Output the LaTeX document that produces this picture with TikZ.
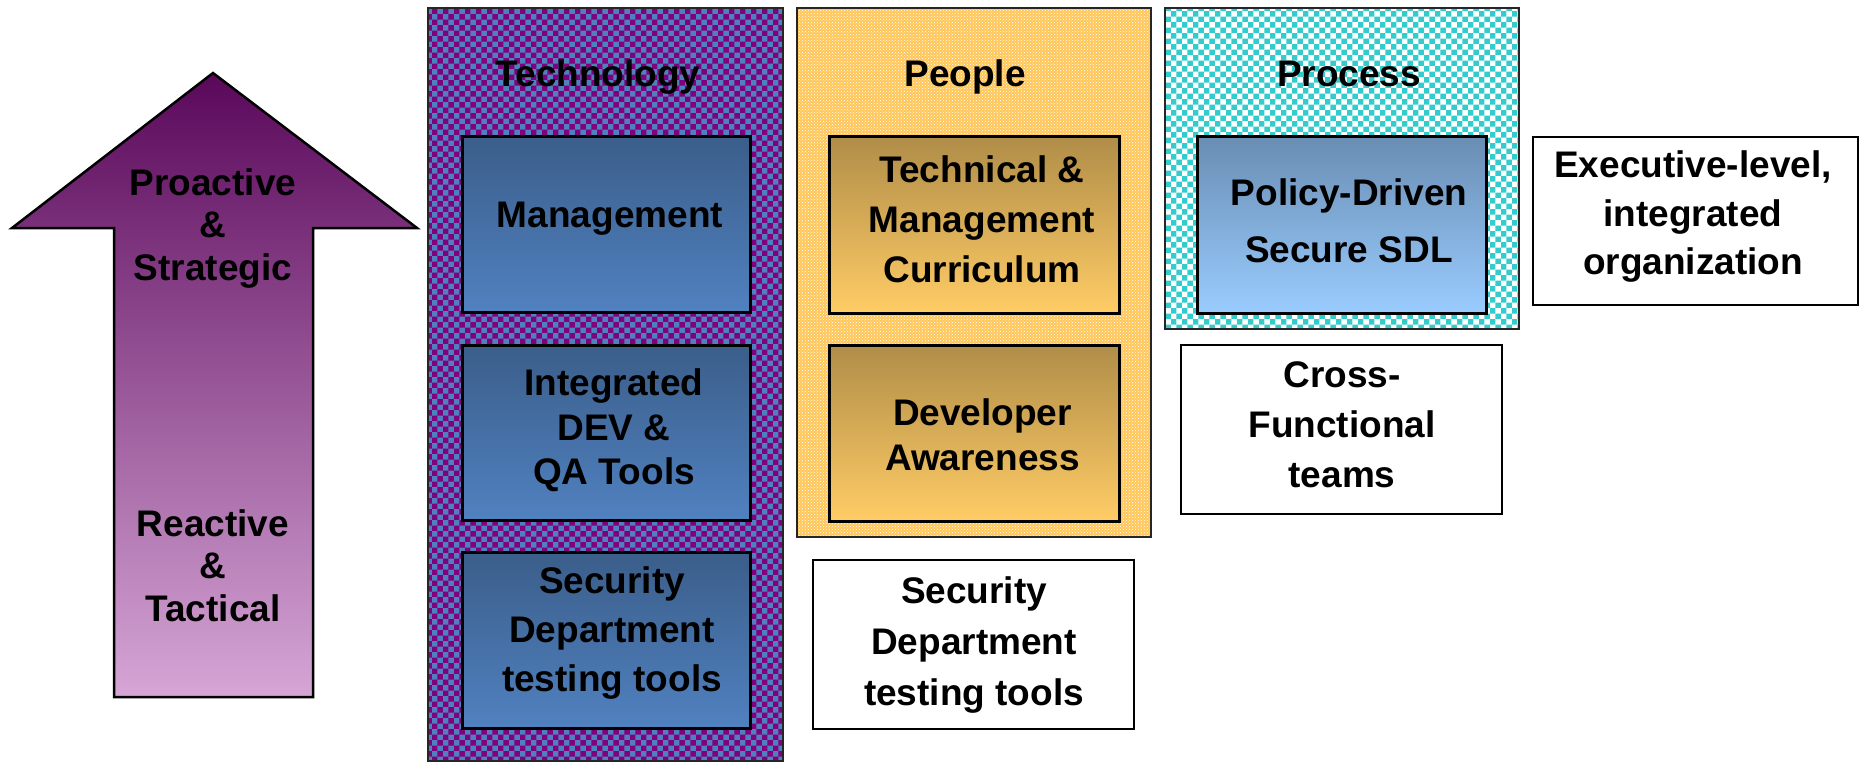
\documentclass[tikz,border=0pt]{standalone}
\usepackage{fontspec}
\setmainfont{Liberation Sans}
\usetikzlibrary{patterns}
\definecolor{techpurple}{HTML}{800080}
\definecolor{techblue}{HTML}{4F81BD}
\definecolor{peopleorange}{HTML}{FFC658}
\definecolor{procteal}{HTML}{33CCCC}
\definecolor{techtop}{HTML}{3B5E8A}
\definecolor{techbot}{HTML}{5081C0}
\definecolor{peoptop}{HTML}{B08D48}
\definecolor{peopbot}{HTML}{FFCC66}
\definecolor{proctop}{HTML}{6A8DB3}
\definecolor{procbot}{HTML}{99CCFF}
\definecolor{arrtop}{HTML}{5A085A}
\definecolor{arrbot}{HTML}{D6A6D6}
\begin{document}
\begin{tikzpicture}[x=1pt,y=-1pt,
  txt/.style={font=\fontsize{37}{#1}\selectfont\bfseries, align=center, inner sep=0pt},
  txt/.default=45,
  panel/.style={draw=black!85, line width=2pt, inner sep=0pt},
  techpanel/.style={panel, preaction={fill=techblue}, pattern=checkerboard, pattern color=techpurple},
  peoppanel/.style={panel, preaction={fill=peopleorange}, pattern=crosshatch dots, pattern color=white},
  procpanel/.style={panel, preaction={fill=procteal}, pattern=checkerboard, pattern color=white},
  inbox/.style={draw=black, line width=3pt, inner sep=0pt},
  techbox/.style={inbox, top color=techtop, bottom color=techbot},
  peopbox/.style={inbox, top color=peoptop, bottom color=peopbot},
  procbox/.style={inbox, top color=proctop, bottom color=procbot},
  whitebox/.style={draw=black, line width=2.5pt, fill=white, inner sep=0pt}
]
\useasboundingbox (0,0) rectangle (1860,762);

% rising arrow
\draw[line width=2.5pt, line join=miter, top color=arrtop, bottom color=arrbot]
  (213,73) -- (417,228) -- (313,228) -- (313,697) -- (114,697) -- (114,228) -- (12,228) -- cycle;
\node[txt=42.5] (proactive) at (213,228.4) {Proactive\\\&\\Strategic};
\node[txt=42.5] (reactive) at (213,565.6) {Reactive\\\&\\Tactical};

% panels
\node[techpanel, minimum width=355pt, minimum height=753pt] (techP) at (605.5,384.5) {};
\node[peoppanel, minimum width=354pt, minimum height=529pt] (peopP) at (974,272.5) {};
\node[procpanel, minimum width=354pt, minimum height=321pt] (procP) at (1342,168.5) {};

\node[txt, anchor=base] (techT) at (598,87) {Technology};
\node[txt, anchor=base] (peopT) at (965,87) {People};
\node[txt, anchor=base] (procT) at (1349,87) {Process};

% technology boxes
\node[techbox, minimum width=288pt, minimum height=175pt] (mgmtB) at (606,224.5) {};
\node[txt, anchor=base] (mgmtT) at (610,227) {Management};
\node[techbox, minimum width=288pt, minimum height=175pt] (devB) at (606,432.5) {};
\node[txt=44.5] (devT) at (614,430.5) {Integrated\\DEV \&\\QA Tools};
\node[techbox, minimum width=288pt, minimum height=176pt] (secB) at (606,640.5) {};
\node[txt=49] (secT) at (612,633) {Security\\Department\\testing tools};

% people boxes
\node[peopbox, minimum width=290pt, minimum height=176pt] (curB) at (974,225) {};
\node[txt=50] (curT) at (982,219) {Technical \&\\Management\\Curriculum};
\node[peopbox, minimum width=290pt, minimum height=176pt] (awaB) at (974,433) {};
\node[txt=45] (awaT) at (982.5,434.5) {Developer\\Awareness};
\node[whitebox, minimum width=321pt, minimum height=169pt] (sec2B) at (973.5,644.5) {};
\node[txt=51] (sec2T) at (974,645) {Security\\Department\\testing tools};

% process boxes
\node[procbox, minimum width=289pt, minimum height=176pt] (sdlB) at (1341.5,225) {};
\node[txt=57] (sdlT) at (1349,220.5) {Policy-Driven\\Secure SDL};
\node[whitebox, minimum width=321pt, minimum height=169pt] (crossB) at (1341.5,429.5) {};
\node[txt=50] (crossT) at (1342,425) {Cross-\\Functional\\teams};

% executive box
\node[whitebox, minimum width=325pt, minimum height=168pt] (execB) at (1695.5,221) {};
\node[txt=48.5] (execT) at (1693,217) {Executive-level,\\integrated\\organization};
\end{tikzpicture}
\end{document}
